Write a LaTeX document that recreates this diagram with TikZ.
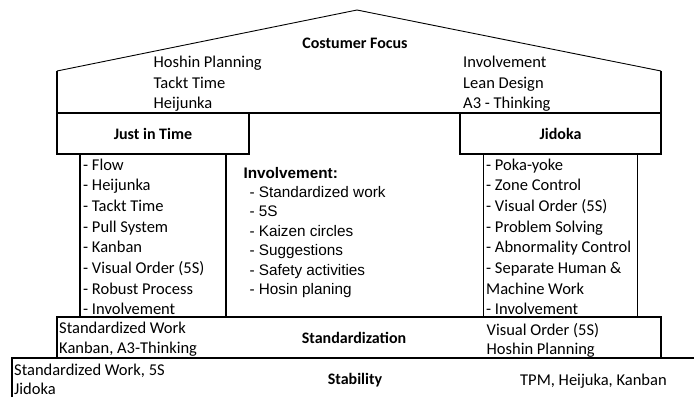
\documentclass[tikz,border=0pt]{standalone}
\usepackage{fontspec}
\setmainfont{Carlito}
\newfontfamily\arialfont{Liberation Sans}
\usetikzlibrary{positioning}
\tikzset{
thickline/.style={draw=black, line width=1.8pt},
roofline/.style={draw=black, line width=0.9pt},
box/.style={%
    rectangle,
    thickline,
    inner sep=0pt,
    outer sep=0pt,
    font=\fontsize{16}{19}\selectfont\bfseries
},
heading/.style={anchor=base, inner sep=0pt, font=\fontsize{16}{19}\selectfont\bfseries},
listitem/.style={anchor=base west, inner sep=0pt, font=\fontsize{16.5}{20}\selectfont},
midhead/.style={listitem, font=\fontsize{15.3}{19}\selectfont\arialfont\bfseries},
miditem/.style={listitem, font=\fontsize{15.3}{19}\selectfont\arialfont},
}

\begin{document}
\begin{tikzpicture}[x=1pt, y=-1pt]
\useasboundingbox (0,0) rectangle (694,397);

% roof
\coordinate (roofl) at (57,71);
\coordinate (apex) at (357,10);
\coordinate (roofr) at (661,71);
\node[box, minimum width=192, minimum height=41] (jit) at (153,133.5) {Just in Time};
\node[box, minimum width=201, minimum height=41] (jidoka) at (560.5,133.5) {Jidoka};
\draw[roofline] (roofl) -- (apex) -- (roofr);
\draw[thickline] (jit.north west) -- (roofl);
\draw[thickline] (jidoka.north east) -- (roofr);
\draw[thickline] (jit.north east) -- (jidoka.north west);

\node[heading] (focus) at (355,48) {Costumer Focus};
\node[listitem] (hoshin) at (153.5,67) {Hoshin Planning};
\node[listitem] (tackt) at (153.5,88) {Tackt Time};
\node[listitem] (heijunka) at (153.5,108.5) {Heijunka};
\node[listitem] (involve) at (463,67) {Involvement};
\node[listitem] (lean) at (463,88) {Lean Design};
\node[listitem] (athree) at (463,108.5) {A3 - Thinking};

% pillars
\node[box, minimum width=146, minimum height=163, below=0pt of jit] (jitpillar) {};
\node[box, minimum width=154, minimum height=163, below=0pt of jidoka] (jidokapillar) {};

\foreach \t [count=\i] in {- Flow, - Heijunka, - Tackt Time, - Pull System, - Kanban,
    - Visual Order (5S), - Robust Process, - Involvement}
    \node[listitem] (jitl\i) at (83,{149.3+20.7*\i}) {\t};

\foreach \t [count=\i] in {- Poka-yoke, - Zone Control, - Visual Order (5S), - Problem Solving,
    - Abnormality Control, - Separate Human \&, Machine Work, - Involvement}
    \node[listitem] (jidl\i) at (486,{149.3+20.7*\i}) {\t};

% middle
\node[midhead] (midtitle) at (243.3,178.3) {Involvement:};
\foreach \t [count=\i] in {- Standardized work, - 5S, - Kaizen circles, - Suggestions,
    - Safety activities, - Hosin planing}
    \node[miditem] (midl\i) at (249.3,{177.8+19.5*\i}) {\t};

% base
\node[box, minimum width=604, minimum height=41] (std) at (359,337.5) {};
\node[heading] (stdtitle) at (354,343.5) {Standardization};
\node[listitem] (stdl1) at (59,333.5) {Standardized Work};
\node[listitem] (stdl2) at (59,353.5) {Kanban, A3-Thinking};
\node[listitem] (stdr1) at (486.5,335) {Visual Order (5S)};
\node[listitem] (stdr2) at (486.5,354.5) {Hoshin Planning};

\coordinate (stabtop) at (12,358);
\draw[thickline] (12,397) -- (stabtop) -- (694,358);
\node[heading] (stabtitle) at (355,384.5) {Stability};
\node[listitem] (stabl1) at (14,375.5) {Standardized Work, 5S};
\node[listitem] (stabl2) at (14,394) {Jidoka};
\node[listitem] (stabr) at (520,385) {TPM, Heijuka, Kanban};
\end{tikzpicture}
\end{document}
